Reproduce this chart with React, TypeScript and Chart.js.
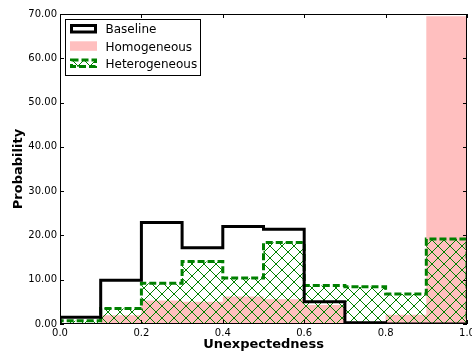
import React, { useEffect, useRef } from 'react';
import { Chart, registerables } from 'chart.js';

Chart.register(...registerables);

const binEdges = [0, 0.1, 0.2, 0.3, 0.4, 0.5, 0.6, 0.7, 0.8, 0.9, 1.0];
const baseline = [1.5, 9.9, 22.9, 17.2, 22.0, 21.4, 5.0, 0.3, 0, 0];
const homogeneous = [0, 2.0, 5.3, 5.0, 6.2, 5.6, 4.3, 0.5, 2.1, 69.5];
const heterogeneous = [0.75, 3.5, 9.2, 14.1, 10.4, 18.4, 8.7, 8.4, 6.8, 19.2];
const seriesLabels = ['Baseline', 'Homogeneous', 'Heterogeneous'];
const xTicks = [0, 0.2, 0.4, 0.6, 0.8, 1.0];
const yTicks = [0, 10, 20, 30, 40, 50, 60, 70];
const xTitle = 'Unexpectedness';
const yTitle = 'Probability';

const PINK = 'rgb(255,191,191)';
const GREEN = '#008000';
const FONT = "'DejaVu Sans', sans-serif";

function stepPoints(values: number[]) {
  const pts: { x: number; y: number }[] = [{ x: binEdges[0], y: 0 }];
  values.forEach((v, i) => pts.push({ x: binEdges[i], y: v }));
  const last = binEdges[binEdges.length - 1];
  pts.push({ x: last, y: values[values.length - 1] });
  pts.push({ x: last, y: 0 });
  return pts;
}

function makeHatch(): CanvasPattern | string {
  const s = 12;
  const c = document.createElement('canvas');
  c.width = s;
  c.height = s;
  const g = c.getContext('2d');
  if (!g) return 'transparent';
  g.strokeStyle = GREEN;
  g.lineWidth = 1;
  g.beginPath();
  g.moveTo(-2, -2);
  g.lineTo(s + 2, s + 2);
  g.moveTo(-2, s + 2);
  g.lineTo(s + 2, -2);
  g.stroke();
  const p = g.createPattern(c, 'repeat');
  return p || 'transparent';
}

export default function App() {
  const ref = useRef<HTMLCanvasElement | null>(null);

  useEffect(() => {
    document.body.style.margin = '0';
    const canvas = ref.current;
    if (!canvas) return;
    const hatch = makeHatch();

    const framePlugin = {
      id: 'frameTicks',
      afterDatasetsDraw(chart: any) {
        const { ctx, chartArea: a, scales } = chart;
        const xs = scales.x;
        const ys = scales.y;
        ctx.save();
        ctx.strokeStyle = '#000';
        ctx.lineWidth = 1;
        ctx.strokeRect(Math.round(a.left) + 0.5, Math.round(a.top) + 0.5,
          Math.round(a.right - a.left) - 1, Math.round(a.bottom - a.top) - 1);
        const tl = 4;
        ctx.beginPath();
        xTicks.forEach((t) => {
          const px = Math.round(xs.getPixelForValue(t)) + 0.5;
          ctx.moveTo(px, a.bottom);
          ctx.lineTo(px, a.bottom - tl);
          ctx.moveTo(px, a.top);
          ctx.lineTo(px, a.top + tl);
        });
        yTicks.forEach((t) => {
          const py = Math.round(ys.getPixelForValue(t)) + 0.5;
          ctx.moveTo(a.left, py);
          ctx.lineTo(a.left + tl, py);
          ctx.moveTo(a.right, py);
          ctx.lineTo(a.right - tl, py);
        });
        ctx.stroke();
        ctx.restore();
      },
    };

    const legendPlugin = {
      id: 'boxLegend',
      afterDraw(chart: any) {
        const { ctx } = chart;
        ctx.save();
        ctx.fillStyle = '#fff';
        ctx.fillRect(66, 19, 135, 56);
        ctx.strokeStyle = '#000';
        ctx.lineWidth = 1;
        ctx.strokeRect(65.5, 19.5, 135, 56);
        const baselines = [33.3, 50.6, 67.9];
        const px = 70;
        const pw = 27;
        const ph = 9.5;
        baselines.forEach((b, i) => {
          const top = b - 9.3;
          if (i === 0) {
            ctx.fillStyle = '#fff';
            ctx.fillRect(px + 1.5, top + 1.5, pw - 3, ph - 3);
            ctx.strokeStyle = '#000';
            ctx.lineWidth = 3;
            ctx.lineJoin = 'miter';
            ctx.strokeRect(px + 1.5, top + 1.5, pw - 3, ph - 3);
          } else if (i === 1) {
            ctx.fillStyle = PINK;
            ctx.fillRect(px, top, pw, ph);
          } else {
            ctx.fillStyle = hatch as any;
            ctx.fillRect(px + 1.5, top + 1.5, pw - 3, ph - 3);
            ctx.strokeStyle = GREEN;
            ctx.lineWidth = 3;
            ctx.setLineDash([7, 3]);
            ctx.strokeRect(px + 1.5, top + 1.5, pw - 3, ph - 3);
            ctx.setLineDash([]);
          }
          ctx.fillStyle = '#000';
          ctx.font = `12px ${FONT}`;
          ctx.textBaseline = 'alphabetic';
          ctx.textAlign = 'left';
          ctx.fillText(seriesLabels[i], 105.5, b);
        });
        ctx.restore();
      },
    };

    const chart = new Chart(canvas, {
      type: 'line',
      data: {
        datasets: [
          {
            label: seriesLabels[0],
            data: stepPoints(baseline),
            stepped: 'before',
            borderColor: '#000',
            borderWidth: 3,
            borderJoinStyle: 'miter',
            backgroundColor: 'transparent',
            fill: false,
            pointRadius: 0,
            order: 0,
          },
          {
            label: seriesLabels[1],
            data: stepPoints(homogeneous),
            stepped: 'before',
            borderColor: 'transparent',
            borderWidth: 0,
            backgroundColor: PINK,
            fill: 'origin',
            pointRadius: 0,
            order: 2,
          },
          {
            label: seriesLabels[2],
            data: stepPoints(heterogeneous),
            stepped: 'before',
            borderColor: GREEN,
            borderWidth: 3,
            borderDash: [7, 3],
            borderJoinStyle: 'miter',
            backgroundColor: hatch as any,
            fill: 'origin',
            pointRadius: 0,
            order: 1,
          },
        ],
      },
      options: {
        animation: false,
        responsive: false,
        devicePixelRatio: 1,
        layout: { padding: { top: 14, right: 5, left: 0, bottom: 0 } },
        plugins: { legend: { display: false }, tooltip: { enabled: false } },
        scales: {
          x: {
            type: 'linear',
            min: 0,
            max: 1,
            afterBuildTicks: (s: any) => {
              s.ticks = xTicks.map((v) => ({ value: v }));
            },
            afterFit: (s: any) => {
              s.height = 33;
              s.paddingLeft = 0;
              s.paddingRight = 0;
            },
            grid: { display: false, drawTicks: false },
            border: { display: false },
            ticks: {
              padding: 3,
              color: '#000',
              maxRotation: 0,
              autoSkip: false,
              font: { family: FONT, size: 10 },
              callback: (v: any) => Number(v).toFixed(1),
            },
            title: {
              display: true,
              text: xTitle,
              color: '#000',
              font: { family: FONT, size: 13, weight: 'bold', lineHeight: 1.2 },
              padding: { top: 0, bottom: 5 },
            },
          },
          y: {
            type: 'linear',
            min: 0,
            max: 70,
            afterBuildTicks: (s: any) => {
              s.ticks = yTicks.map((v) => ({ value: v }));
            },
            afterFit: (s: any) => {
              s.width = 60;
              s.paddingTop = 0;
              s.paddingBottom = 0;
            },
            grid: { display: false, drawTicks: false },
            border: { display: false },
            ticks: {
              padding: 3,
              color: '#000',
              autoSkip: false,
              font: { family: FONT, size: 10 },
              callback: (v: any) => Number(v).toFixed(2),
            },
            title: {
              display: true,
              text: yTitle,
              color: '#000',
              font: { family: FONT, size: 13, weight: 'bold', lineHeight: 1.2 },
              padding: { top: 10.5, bottom: 0 },
            },
          },
        },
      },
      plugins: [framePlugin, legendPlugin],
    } as any);

    return () => chart.destroy();
  }, []);

  return (
    <div style={{ width: 472, height: 357 }}>
      <canvas ref={ref} width={472} height={357} style={{ display: 'block', width: 472, height: 357 }} />
    </div>
  );
}
